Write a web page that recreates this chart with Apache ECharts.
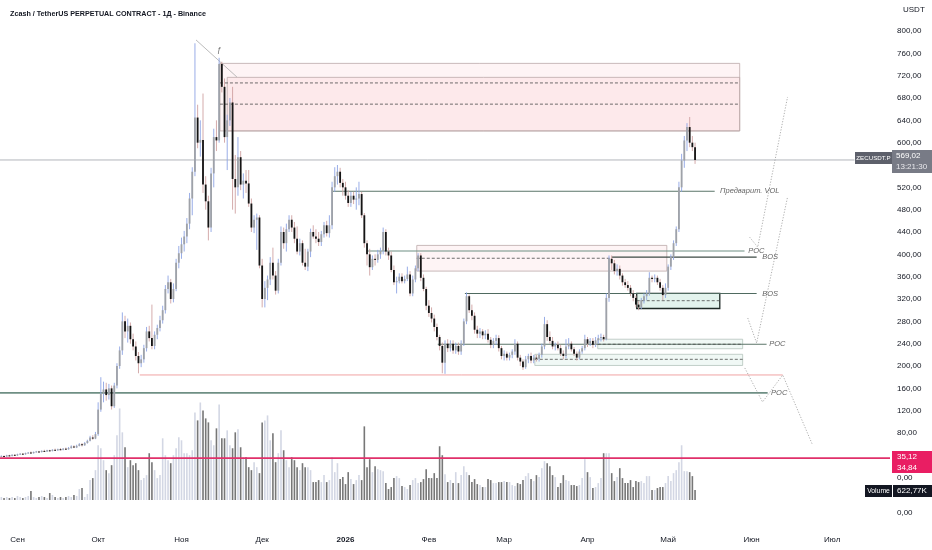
<!DOCTYPE html>
<html><head><meta charset="utf-8">
<script src="https://cdn.jsdelivr.net/npm/echarts@6/dist/echarts.min.js"></script>
<style>html,body{margin:0;padding:0;background:#fff}#c{width:932px;height:550px}</style>
</head><body><div id="c"></div>
<script>
// ---------- DATA ----------
const START_DATE = '2025-08-26';
const DAY_COUNT = 331; // through 2026-07-22 (empty space on the right)
const monthTickDates = ['2025-09-01','2025-10-01','2025-11-01','2025-12-01','2026-01-01','2026-02-01','2026-03-01','2026-04-01','2026-05-01','2026-06-01','2026-07-01'];
const monthTickLabels = ['Сен','Окт','Ноя','Дек','2026','Фев','Мар','Апр','Май','Июн','Июл'];

// daily candles [open, close, low, high]
const ohlc = [
[38,39,37,40],[39,38,37,40],[38,40,37,41],[40,39,38,41],[39,41,38,42],[41,40,39,42],[40,42,39,43],[42,43,41,44],[43,42,41,44],[42,44,41,45],
[44,45,43,46],[45,44,43,47],[44,46,43,47],[46,47,45,48],[47,46,45,48],[46,48,45,49],[48,47,46,50],[47,49,46,50],[49,48,47,50],[48,50,47,51],
[50,49,48,52],[49,51,48,52],[51,50,49,53],[50,52,49,53],[52,51,50,54],[51,53,50,55],[53,56,52,58],[56,54,53,58],[54,57,53,59],[57,60,56,62],
[60,58,56,62],[58,62,57,64],[62,66,61,68],[66,72,65,75],[72,70,68,76],[70,78,69,82],
[78,122,75,135],[122,150,118,180],[150,158,135,172],[158,148,138,170],[148,160,140,168],[160,128,122,165],[128,165,125,170],[165,200,160,205],[200,228,195,235],[228,280,220,296],
[280,262,250,290],[262,272,242,285],[272,248,240,278],[248,235,228,258],[235,218,210,244],[218,205,187,225],[205,212,198,220],[212,232,206,238],[232,262,226,270],[262,250,244,272],
[250,236,230,310],[236,256,230,262],[256,268,248,274],[268,282,262,290],[282,300,276,308],[300,338,294,345],[338,350,330,362],[350,320,312,356],[320,338,314,348],[338,385,334,392],
[385,402,375,415],
[402,418,392,430],[418,432,405,442],[432,455,420,465],[455,500,445,510],[500,548,470,556],[548,645,540,778],[645,600,590,668],[600,605,575,640],[605,525,510,688],[525,495,480,540],
[495,448,425,505],[448,545,440,555],[545,610,520,625],[610,604,585,640],[604,741,600,752],[741,700,690,745],[700,610,600,715],[610,640,551,650],[640,672,630,680],[672,535,480,700],
[535,520,473,578],[520,574,505,610],[574,525,515,585],[525,532,500,545],[532,527,510,551],[527,491,485,551],[491,448,440,500],[448,462,438,470],[462,466,408,473],[466,380,375,470],
[380,320,305,392],[320,340,305,352],[340,355,318,362],[355,385,345,395],[385,362,355,412],[362,335,328,370],[335,385,330,392],[385,440,380,450],[440,420,410,448],[420,445,405,455],
[445,462,440,470],[462,448,440,470],[448,428,420,458],[428,405,400,450],[405,420,398,428],[420,385,380,425],[385,378,372,410],[378,405,370,410],[405,440,395,446],[440,432,428,452],
[432,428,420,445],[428,422,415,440],[422,436,415,442],[436,452,430,458],[452,438,432,460],[438,452,430,470],[452,520,445,530],[520,540,512,556],[540,548,525,560],[548,528,520,555],
[528,520,505,535],
[520,505,498,530],[505,492,485,515],[492,505,485,512],[505,498,490,512],[498,500,480,520],[500,508,488,530],[508,470,465,512],[470,420,412,474],[420,400,380,425],[400,377,362,410],
[377,392,372,398],[392,390,380,400],[390,400,385,408],[400,406,392,412],[406,440,400,448],[440,405,398,445],[405,398,390,412],[398,372,368,405],[372,350,345,380],[350,352,330,360],
[352,360,348,366],[360,352,348,366],[352,356,348,362],[356,364,352,378],[364,330,325,370],[330,355,325,362],[355,375,350,380],[375,398,370,402],[398,358,352,402],[358,338,334,364],
[338,308,300,342],
[308,295,288,318],[295,285,278,305],[285,270,262,292],[270,252,246,276],[252,236,228,256],[236,206,187,242],[206,240,186,246],[240,232,225,248],[232,240,226,246],[240,228,222,246],
[228,236,222,242],[236,226,220,242],[226,240,220,246],[240,280,236,285],[280,325,275,332],[325,300,295,328],[300,290,282,310],[290,265,258,296],[265,258,250,272],[258,262,250,268],
[262,255,248,266],[255,258,248,264],[258,247,242,266],[247,238,232,252],[238,245,232,250],[245,250,238,256],[250,232,226,255],[232,218,212,236],
[218,222,210,228],[222,215,210,226],[215,220,210,224],[220,226,214,230],[226,240,220,248],[240,215,210,244],[215,208,200,220],[208,198,193,212],[198,212,195,218],[212,218,205,222],
[218,210,205,224],[210,215,205,220],[215,213,208,220],[213,220,208,224],[220,235,215,240],[235,275,230,288],[275,252,245,282],[252,245,240,262],[245,235,230,252],[235,238,228,242],
[238,232,228,244],[232,222,218,238],[222,218,212,228],[218,235,214,248],[235,240,230,250],[240,230,226,244],[230,222,218,234],[222,215,210,226],[215,226,212,230],[226,232,222,236],
[232,248,228,256],
[248,240,234,252],[240,245,236,250],[245,238,232,250],[238,246,234,252],[246,250,240,256],[250,252,244,258],[252,248,244,256],[248,322,246,330],[322,392,315,398],[392,384,372,398],
[384,370,364,390],[370,374,362,382],[374,362,355,380],[362,350,344,366],[350,345,340,356],[345,340,335,352],[340,330,325,345],[330,322,316,336],[322,310,305,326],[310,305,300,316],
[305,318,302,322],[318,325,312,330],[325,330,318,336],[330,358,326,368],[358,356,350,362],[356,358,350,364],[358,350,345,362],[350,340,335,356],[340,327,318,345],[327,340,322,348],
[340,378,335,382],[378,395,372,400],[395,420,390,425],[420,445,415,450],[445,520,440,530],[520,568,512,580],[568,604,555,612],[604,628,585,635],[628,600,592,646],[600,592,585,612],
[592,569.02,562,600]
];

// daily volume, thousands
const volumes = [
186,124,186,124,186,124,248,186,124,186,248,558,186,124,186,248,186,124,434,310,186,124,186,124,186,248,186,310,248,682,744,186,372,1240,1364,1860,
3410,3224,2480,1860,1674,2170,2790,4030,5704,4216,3286,2046,2480,2170,2294,1860,1240,1364,1550,2914,2356,1860,1364,1550,3844,2790,2480,2294,2790,3224,3906,
3720,2914,2914,2790,3100,5456,4960,6076,5580,5084,4836,3720,3410,4464,5952,3844,3844,4340,3410,3224,4216,4402,3286,2666,2666,2046,1860,2356,2046,1674,
4836,4960,5270,3720,4154,2356,2914,4340,3100,2480,2046,2666,2480,2046,1860,2294,2046,2046,1860,1116,1116,1240,1116,1550,1116,1240,2666,1736,2294,1302,1426,
992,1736,1302,992,1240,1550,1240,4588,2046,2542,1736,2108,1922,1860,1798,1054,682,806,1364,1488,1364,868,806,682,930,1240,1364,1054,1116,1302,1922,
1364,1364,1674,1364,3348,2790,1612,1116,1240,1054,1736,1054,1550,2108,1736,1550,1116,1302,992,930,806,806,1302,1240,1054,1054,1116,1116,
1178,1116,1116,930,868,1054,992,1240,1488,1674,1302,1178,1550,1426,1984,2418,2294,2108,1550,1426,806,1054,1550,1240,1178,930,930,868,930,1364,2542,
1736,1426,744,806,1054,1364,2914,2914,2914,1674,1178,1426,1984,1364,1054,1054,1240,806,1178,1116,1178,1054,1488,1488,620,620,744,806,806,1054,
1488,1178,1674,1860,2356,3410,1798,1798,1736,1488,622.77
];

// horizontal levels (x in day index units, price)
const levelNames = ['last','poc152','red184','pink35','vol513','poc406','bos395','bos330','poc239'];
const levelFrom  = [-0.5, -0.5, 51.5, -0.5, 123.3, 136.3, 227, 172.4, 162.3];
const levelTo    = [317.3, 285, 290.6, 330.5, 265.3, 276.4, 280.9, 280.9, 284.6];
const levelPrice = [569.02, 152, 184, 35.12, 513, 406, 395, 330, 239];

// dashed mid-lines inside zones
const dashFrom  = [81.3, 81.3, 154.5, 236.3, 221.8, 198.4];
const dashTo    = [274.6, 274.6, 227, 267.2, 275.7, 275.7];
const dashPrice = [707, 669, 393, 317, 239, 212];

// zones [fromIdx, toIdx, top, bottom]
const supplyZones = [[81.3,274.6,742,621],[84,274.6,717,621],[154.5,247.5,416,370]];
const demandZones = [[221.8,275.7,248,231],[198.4,275.7,221,201]];
const strongDemandZones = [[236.3,267.2,330,303]];

const trendLine = [[72.4,784],[87.6,717.6]];
const zigzags = [
  [[278.3,430.7],[281.3,413],[292.4,681.8]],
  [[277.6,286],[280.9,241.2],[292.4,502.7]],
  [[276.5,196.5],[283.1,135.6],[290.6,184],[301.7,58.6]]
];
const textMarks = [[267.1,513,'Предварит. VOL'],[277.6,406,'POC'],[282.8,395,'BOS'],[282.8,330,'BOS'],[285.4,239,'POC'],[286.1,152,'POC']];
const fractalMark = [[80.9,766,'ƒ']];

// ---------- CHART ----------
const categories = [];
const t0 = Date.parse(START_DATE + 'T00:00:00Z');
for (let k = 0; k < DAY_COUNT; k++) categories.push(new Date(t0 + k * 86400000).toISOString().slice(0, 10));
const tickMap = {};
monthTickDates.forEach((d, i) => tickMap[d] = monthTickLabels[i]);

const fmt = v => v.toFixed(2).replace('.', ',');
const FONT = 'Liberation Sans, Arial, sans-serif';

const levelStyle = {
  last:   {color:'#9ea1a8', width:0.8},
  poc152: {color:'#6f8f84', width:1.6},
  red184: {color:'#ef9a9a', width:0.9},
  pink35: {color:'#e0306a', width:1.6},
  vol513: {color:'#5b7569', width:1},
  poc406: {color:'#6f8f84', width:1.1},
  bos395: {color:'#3d4a45', width:1.1},
  bos330: {color:'#4f6a60', width:1.1},
  poc239: {color:'#5b7569', width:1.1}
};

const series = [];

function rectSeries(data, fill, stroke, lw, z) {
  return {
    type:'custom', xAxisIndex:1, yAxisIndex:0, silent:true, clip:false, z:z, animation:false,
    data:data, encode:{x:[0,1], y:[2,3]},
    renderItem:(params, api) => {
      const p1 = api.coord([api.value(0), api.value(2)]);
      const p2 = api.coord([api.value(1), api.value(3)]);
      return {type:'rect', shape:{x:p1[0], y:p1[1], width:p2[0]-p1[0], height:p2[1]-p1[1]},
        style:{fill:fill, stroke:stroke, lineWidth:lw}};
    }
  };
}
series.push(rectSeries(supplyZones, 'rgba(242,54,69,0.055)', '#bba9a9', 0.8, 1));
series.push(rectSeries(demandZones, 'rgba(60,170,130,0.08)', '#b5c4bd', 0.8, 1));
series.push(rectSeries(strongDemandZones, 'rgba(60,170,130,0.14)', '#1f2a26', 1.3, 1));

levelNames.forEach((n, i) => {
  series.push({type:'line', xAxisIndex:1, yAxisIndex:0, silent:true, animation:false, symbol:'none', z:2,
    data:[[levelFrom[i], levelPrice[i]], [levelTo[i], levelPrice[i]]],
    lineStyle:{color:levelStyle[n].color, width:levelStyle[n].width}});
});
dashPrice.forEach((p, i) => {
  series.push({type:'line', xAxisIndex:1, yAxisIndex:0, silent:true, animation:false, symbol:'none', z:2,
    data:[[dashFrom[i], p], [dashTo[i], p]],
    lineStyle:{color:'#4a4a4a', width:0.8, type:[3,2]}});
});
series.push({type:'line', xAxisIndex:1, yAxisIndex:0, silent:true, animation:false, symbol:'none', z:2, clip:false,
  data:trendLine, lineStyle:{color:'#a9a9a9', width:0.8}});
zigzags.forEach(zz => series.push({type:'line', xAxisIndex:1, yAxisIndex:0, silent:true, animation:false, symbol:'none', z:2, clip:false,
  data:zz, lineStyle:{color:'#9a9a9a', width:0.8, type:[1.2,1.6]}}));

// candles
series.push({
  type:'custom', name:'ZECUSDT.P', xAxisIndex:0, yAxisIndex:0, z:3, animation:false, silent:true,
  data: ohlc.map((d, i) => [i, d[0], d[1], d[2], d[3]]),
  encode:{x:0, y:[1,2,3,4]},
  renderItem:(params, api) => {
    const x = api.value(0), o = api.value(1), c = api.value(2), l = api.value(3), h = api.value(4);
    const pO = api.coord([x, o]), pC = api.coord([x, c]), pL = api.coord([x, l]), pH = api.coord([x, h]);
    const w = Math.max(1.3, api.size([1, 0])[0] * 0.68);
    const up = c >= o;
    const top = Math.min(pO[1], pC[1]);
    const bh = Math.max(1, Math.abs(pO[1] - pC[1]));
    return {type:'group', children:[
      {type:'line', shape:{x1:pO[0], y1:pH[1], x2:pO[0], y2:pL[1]}, style:{stroke: up ? '#8da4e4' : '#cfa2a2', lineWidth:0.9}},
      {type:'rect', shape:{x:pO[0] - w / 2, y:top, width:w, height:bh}, style:{fill: up ? '#9fa2a8' : '#151515'}}
    ]};
  }
});

// volume
series.push({
  type:'bar', xAxisIndex:2, yAxisIndex:1, barWidth:'60%', animation:false, silent:true,
  data: volumes.map((v, i) => ({value:v, itemStyle:{color: ohlc[i][1] >= ohlc[i][0] ? '#d3d7e4' : '#777777'}}))
});

// text marks
series.push({type:'scatter', xAxisIndex:1, yAxisIndex:0, symbolSize:1, itemStyle:{color:'rgba(0,0,0,0)'}, silent:true, animation:false, z:5,
  data:textMarks,
  label:{show:true, position:'right', distance:0, formatter:p => p.value[2], fontStyle:'italic', fontSize:7.5, color:'#3a3a3a', fontFamily:FONT}});
series.push({type:'scatter', xAxisIndex:1, yAxisIndex:0, symbolSize:1, itemStyle:{color:'rgba(0,0,0,0)'}, silent:true, animation:false, z:5,
  data:fractalMark,
  label:{show:true, position:'inside', formatter:p => p.value[2], fontStyle:'italic', fontSize:8, color:'#444', fontFamily:FONT}});

const G = 100; // graphic z above axis labels
const chart = echarts.init(document.getElementById('c'));
chart.setOption({
  animation:false,
  backgroundColor:'#ffffff',
  title:{text:'Zcash / TetherUS PERPETUAL CONTRACT - 1Д - Binance', left:5, top:6,
    textStyle:{fontSize:7.2, fontWeight:'bold', color:'#131722', fontFamily:FONT}},
  grid:[
    {left:0, right:42, top:31, bottom:72.3},
    {left:0, right:42, top:400, bottom:50}
  ],
  xAxis:[
    {type:'category', gridIndex:0, data:categories, boundaryGap:true, show:false},
    {type:'value', gridIndex:0, min:-0.5, max:DAY_COUNT - 0.5, show:false},
    {type:'category', gridIndex:1, data:categories, boundaryGap:true,
      axisLine:{show:false}, axisTick:{show:false}, splitLine:{show:false},
      axisLabel:{margin:36, fontSize:8, color:'#131722', fontFamily:FONT,
        interval:(idx, val) => tickMap[val] !== undefined,
        formatter:val => tickMap[val] === '2026' ? '{b|2026}' : (tickMap[val] || ''),
        rich:{b:{fontWeight:'bold', fontSize:8, color:'#131722', fontFamily:FONT}}}}
  ],
  yAxis:[
    {type:'value', gridIndex:0, position:'right', min:0, max:800, interval:40,
      axisLine:{show:false}, axisTick:{show:false}, splitLine:{show:false},
      axisLabel:{margin:7, fontSize:8, color:'#131722', fontFamily:FONT, formatter:fmt}},
    {type:'value', gridIndex:1, min:0, max:6230, show:false, splitLine:{show:false}}
  ],
  series:series,
  graphic:[
    {type:'text', z:G, left:903, top:6, style:{text:'USDT', fontSize:8, fill:'#131722', fontFamily:FONT}},
    {type:'rect', z:G, shape:{x:855, y:152, width:37, height:12}, style:{fill:'#5d606b'}},
    {type:'text', z:G+1, x:873.5, y:158, style:{text:'ZECUSDT.P', fontSize:6.2, fill:'#fff', align:'center', verticalAlign:'middle', fontFamily:FONT}},
    {type:'rect', z:G, shape:{x:892, y:150, width:40, height:23}, style:{fill:'#787b86'}},
    {type:'text', z:G+1, x:896, y:156, style:{text:'569,02', fontSize:8, fill:'#fff', verticalAlign:'middle', fontFamily:FONT}},
    {type:'text', z:G+1, x:896, y:167, style:{text:'13:21:30', fontSize:8, fill:'#e8e8ec', verticalAlign:'middle', fontFamily:FONT}},
    {type:'rect', z:G, shape:{x:892, y:451, width:40, height:11}, style:{fill:'#e91e63'}},
    {type:'text', z:G+1, x:897, y:456.5, style:{text:'35,12', fontSize:8, fill:'#fff', verticalAlign:'middle', fontFamily:FONT}},
    {type:'rect', z:G, shape:{x:892, y:462, width:40, height:11}, style:{fill:'#e91e63'}},
    {type:'text', z:G+1, x:897, y:467.5, style:{text:'34,84', fontSize:8, fill:'#fff', verticalAlign:'middle', fontFamily:FONT}},
    {type:'rect', z:G, shape:{x:865, y:485, width:27, height:12}, style:{fill:'#131722'}},
    {type:'text', z:G+1, x:878.5, y:491, style:{text:'Volume', fontSize:6.8, fill:'#fff', align:'center', verticalAlign:'middle', fontFamily:FONT}},
    {type:'rect', z:G, shape:{x:893, y:485, width:39, height:12}, style:{fill:'#131722'}},
    {type:'text', z:G+1, x:912, y:491, style:{text:'622,77K', fontSize:8, fill:'#fff', align:'center', verticalAlign:'middle', fontFamily:FONT}},
    {type:'text', z:G, x:897, y:509, style:{text:'0,00', fontSize:8, fill:'#131722', fontFamily:FONT}}
  ]
});
</script>
</body></html>
